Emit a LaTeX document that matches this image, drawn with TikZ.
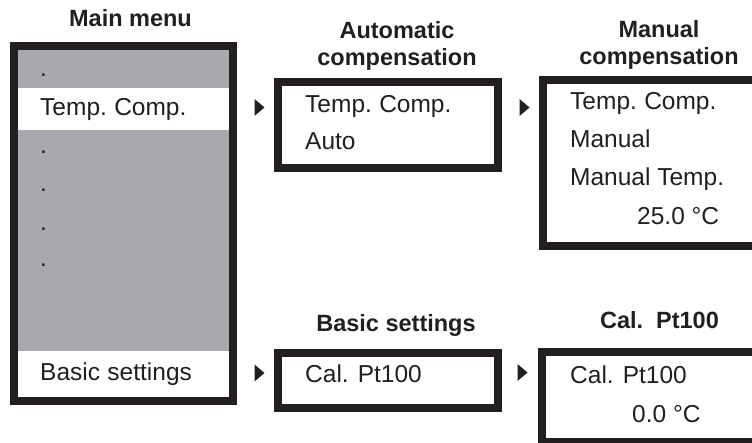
\documentclass[tikz,border=0pt]{standalone}
\usepackage{fontspec}
\setmainfont{Liberation Sans}
\definecolor{ink}{HTML}{231F20}
\definecolor{panel}{HTML}{A7A9AC}
\tikzset{
  screen/.style={draw=ink, line width=8pt},
  item/.style={anchor=base west, inner sep=0pt, text=ink, font=\fontsize{24.5}{28}\selectfont},
  heading/.style={anchor=base, inner sep=0pt, text=ink, font=\fontsize{23.5}{27}\selectfont\bfseries},
  marker/.style={fill=ink}
}
\begin{document}
\begin{tikzpicture}[x=1pt, y=-1pt]
\useasboundingbox (0,0) rectangle (752,443);
\clip (0,0) rectangle (752,443);

% ---- Main menu ----
\fill[panel] (13,45) rectangle (234,402);
\fill[white] (13,88) rectangle (234,130);
\fill[white] (13,351) rectangle (234,402);
\draw[screen] (13.75,45.75) rectangle (233.25,401.25);
\node[heading] (tmain) at (130.5,27) {Main menu};
\node[item] (d1) at (40,77) {.};
\node[item] (mtc) at (40,116) {Temp.\hspace{0.3em}Comp.};
\node[item] (d2) at (40,153.5) {.};
\node[item] (d3) at (40,192) {.};
\node[item] (d4) at (40,230.5) {.};
\node[item] (d5) at (40,267) {.};
\node[item] (mbs) at (40,381) {Basic\hspace{0.3em}settings};

% ---- Automatic compensation ----
\node[heading] (tauto1) at (397,39) {Automatic};
\node[heading] (tauto2) at (397,66) {compensation};
\draw[screen] (278,82) rectangle (498,168);
\node[item] (atc) at (305,113) {Temp.\hspace{0.3em}Comp.};
\node[item] (aau) at (305,150) {Auto};

% ---- Manual compensation ----
\node[heading] (tman1) at (659,38) {Manual};
\node[heading] (tman2) at (659,65) {compensation};
\draw[screen] (543,80) rectangle (780,246);
\node[item] (ntc) at (570,110) {Temp.\hspace{0.3em}Comp.};
\node[item] (nma) at (570,148) {Manual};
\node[item] (nmt) at (570,186) {Manual Temp.};
\node[item] (nval) at (637,225) {25.0 °C};

% ---- Basic settings ----
\node[heading] (tbasic) at (396,332) {Basic settings};
\draw[screen] (278,353) rectangle (498,408);
\node[item] (bcal) at (305,382) {Cal. Pt100};

% ---- Cal. Pt100 ----
\node[heading] (tcal) at (659.5,329) {Cal.\hspace{0.55em}Pt100};
\draw[screen] (542,352) rectangle (780,442);
\node[item] (ccal) at (570,383) {Cal. Pt100};
\node[item] (cval) at (632,422) {0.0 °C};

% ---- markers ----
\fill[marker] (254.5,99) -- (264.5,107.5) -- (254.5,116) -- cycle;
\fill[marker] (519.5,99) -- (529.5,107.5) -- (519.5,116) -- cycle;
\fill[marker] (254.5,364.5) -- (264.5,373) -- (254.5,381.5) -- cycle;
\fill[marker] (517.5,364) -- (527.5,372.5) -- (517.5,381) -- cycle;
\end{tikzpicture}
\end{document}
